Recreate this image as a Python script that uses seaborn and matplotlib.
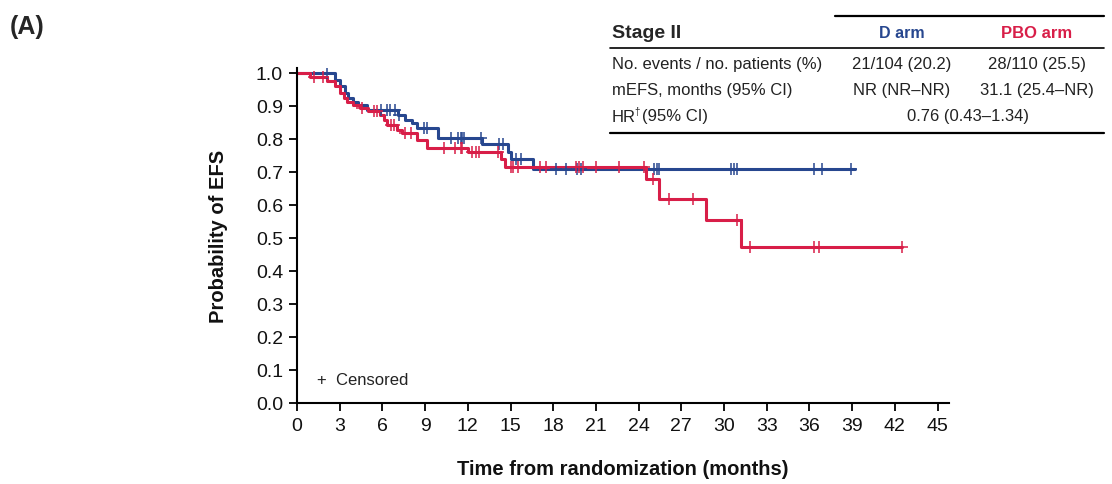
import numpy as np
import pandas as pd
import matplotlib
matplotlib.use("Agg")
import matplotlib.pyplot as plt
from matplotlib.lines import Line2D
import seaborn as sns

sns.set_theme(style="ticks")
plt.rcParams["font.family"] = ["Liberation Sans", "DejaVu Sans"]

# Kaplan-Meier step estimates (time in months, survival after each drop)
d_times = [0, 2.7, 3.0, 3.4, 3.6, 3.9, 4.3, 4.9, 7.1, 7.6, 8.1, 8.45, 9.9, 13.0, 14.8, 15.0, 16.6, 39.2]
d_surv = [1.0, 0.979, 0.959, 0.939, 0.923, 0.913, 0.904, 0.889, 0.873, 0.858, 0.849, 0.834, 0.804,
          0.786, 0.762, 0.738, 0.709, 0.709]
d_censor = [2.1, 5.9, 6.3, 6.5, 6.9, 7.2, 8.9, 9.1, 10.8, 11.3, 11.5, 11.6, 11.7, 12.9, 14.2, 14.5,
            15.4, 15.7, 18.2, 18.9, 19.7, 19.95, 25.1, 25.3, 25.4, 30.5, 30.7, 30.9, 36.3, 36.9, 38.9]

pbo_times = [0, 0.9, 2.1, 2.7, 3.0, 3.3, 3.5, 3.9, 4.4, 5.0, 5.85, 6.1, 6.3, 7.0, 7.4, 8.45, 9.1,
             12.0, 14.3, 14.6, 24.5, 25.4, 28.7, 31.2, 42.5]
pbo_surv = [1.0, 0.988, 0.977, 0.959, 0.939, 0.923, 0.913, 0.904, 0.894, 0.886, 0.873, 0.858, 0.843,
            0.828, 0.819, 0.796, 0.774, 0.762, 0.738, 0.716, 0.678, 0.617, 0.554, 0.473, 0.473]
pbo_censor = [1.2, 1.8, 4.6, 5.4, 5.6, 6.6, 6.8, 7.6, 8.0, 10.3, 11.1, 11.5, 11.6, 12.3, 12.6, 12.8,
              14.1, 15.0, 15.2, 15.5, 17.1, 17.5, 19.6, 19.8, 20.1, 21.0, 22.6, 24.4, 25.0, 26.1,
              27.8, 30.9, 31.8, 36.3, 36.7, 42.5]

arm_names = ["D arm", "PBO arm"]
arm_colors = {"D arm": "#27478F", "PBO arm": "#D81E48"}

x_ticks = list(range(0, 46, 3))
y_ticks = [round(v * 0.1, 1) for v in range(11)]

table_header = ["Stage II", "D arm", "PBO arm"]
table_rows = [
    ("No. events / no. patients (%)", "21/104 (20.2)", "28/110 (25.5)"),
    ("mEFS, months (95% CI)", "NR (NR\u2013NR)", "31.1 (25.4\u2013NR)"),
]
hr_label = "0.76 (0.43\u20131.34)"


def step_value(times, surv, t):
    idx = np.searchsorted(times, t, side="right") - 1
    return surv[idx]


curves = pd.concat([
    pd.DataFrame({"time": d_times, "surv": d_surv, "arm": "D arm"}),
    pd.DataFrame({"time": pbo_times, "surv": pbo_surv, "arm": "PBO arm"}),
], ignore_index=True)

cens = pd.concat([
    pd.DataFrame({"time": d_censor,
                  "surv": [step_value(d_times, d_surv, t) for t in d_censor], "arm": "D arm"}),
    pd.DataFrame({"time": pbo_censor,
                  "surv": [step_value(pbo_times, pbo_surv, t) for t in pbo_censor], "arm": "PBO arm"}),
], ignore_index=True)

W, H = 1112, 485
fig = plt.figure(figsize=(W / 100, H / 100), dpi=100)


def fx(x):
    return x / W


def fy(y):
    return 1 - y / H


ax = fig.add_axes([fx(297), fy(404), fx(949) - fx(297), fy(69) - fy(404)])

for arm in arm_names:
    sub = curves[curves["arm"] == arm]
    sns.lineplot(data=sub, x="time", y="surv", ax=ax, color=arm_colors[arm],
                 drawstyle="steps-post", estimator=None, linewidth=2.2, legend=False)
    csub = cens[cens["arm"] == arm]
    sns.scatterplot(data=csub, x="time", y="surv", ax=ax, color=arm_colors[arm],
                    marker="+", s=70, linewidth=1.1, legend=False, zorder=3)

ax.set_xlim(0, 45.8)
ax.set_ylim(0, 1.015)
ax.set_xticks(x_ticks)
ax.set_xticklabels([str(t) for t in x_ticks])
ax.set_yticks(y_ticks)
ax.set_yticklabels([f"{v:.1f}" for v in y_ticks])
ax.tick_params(axis="both", labelsize=14, length=6, width=1.3, color="black",
               labelcolor="#111111", pad=4)
for side in ["top", "right"]:
    ax.spines[side].set_visible(False)
for side in ["left", "bottom"]:
    ax.spines[side].set_linewidth(1.5)
    ax.spines[side].set_color("black")

ax.set_xlabel("Time from randomization (months)", fontsize=14.5, fontweight="bold",
              labelpad=18, color="#111111")
ax.set_ylabel("Probability of EFS", fontsize=14.5, fontweight="bold", labelpad=20,
              color="#111111")

ax.text(1.4, 0.07, "+  Censored", fontsize=12, va="center", ha="left", color="#222222")

fig.text(fx(10), fy(27), "(A)", fontsize=18, fontweight="bold", va="center", ha="left")

# Summary table
col_x = [612, 902, 1037]
fig.add_artist(Line2D([fx(835), fx(1104)], [fy(17), fy(17)], color="black", lw=1.6))
fig.add_artist(Line2D([fx(610), fx(1104)], [fy(49), fy(49)], color="black", lw=1.2))
fig.add_artist(Line2D([fx(610), fx(1104)], [fy(134), fy(134)], color="black", lw=1.6))
fig.text(fx(col_x[0]), fy(33), table_header[0], fontsize=14, fontweight="bold", va="center", ha="left")
fig.text(fx(col_x[1]), fy(33), table_header[1], fontsize=11.5, fontweight="bold", va="center",
         ha="center", color=arm_colors["D arm"])
fig.text(fx(col_x[2]), fy(33), table_header[2], fontsize=12, fontweight="bold", va="center",
         ha="center", color=arm_colors["PBO arm"])
row_y = [65, 91, 117]
for (lab, v1, v2), yy in zip(table_rows, row_y):
    fig.text(fx(col_x[0]), fy(yy), lab, fontsize=12, va="center", ha="left", color="#222222")
    fig.text(fx(col_x[1]), fy(yy), v1, fontsize=12, va="center", ha="center", color="#222222")
    fig.text(fx(col_x[2]), fy(yy), v2, fontsize=12, va="center", ha="center", color="#222222")
fig.text(fx(col_x[0]), fy(117), "HR", fontsize=12, va="center", ha="left", color="#222222")
fig.text(fx(col_x[0] + 22.5), fy(112), "\u2020", fontsize=7, va="center", ha="left", color="#222222")
fig.text(fx(col_x[0] + 30), fy(117), "(95% CI)", fontsize=12, va="center", ha="left", color="#222222")
fig.text(fx(968), fy(117), hr_label, fontsize=12, va="center", ha="center", color="#222222")

fig.savefig("out.png", dpi=100)
